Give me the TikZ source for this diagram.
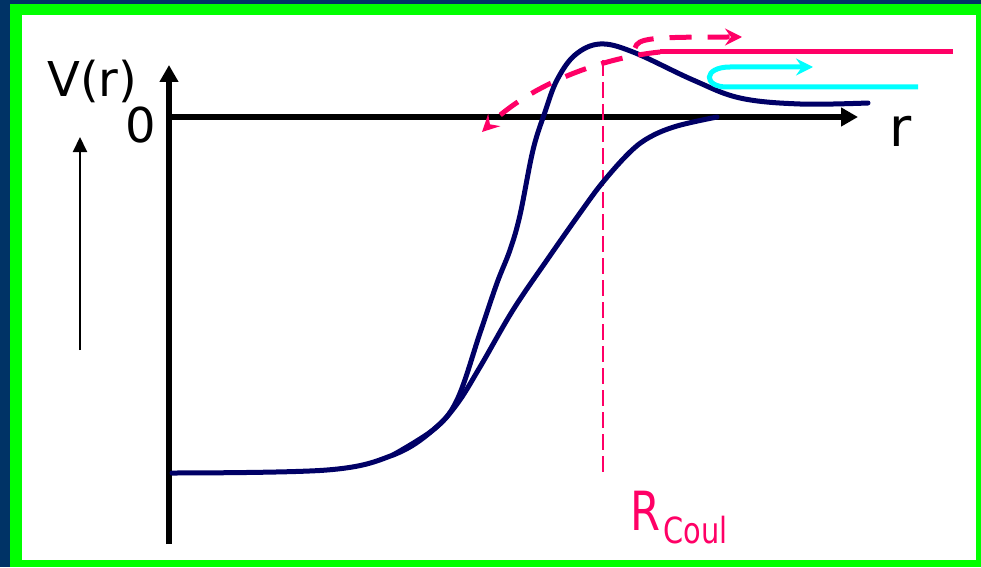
\documentclass[tikz,border=0pt]{standalone}
\usepackage{fontspec}
\setmainfont{DejaVu Sans}
\newfontfamily\narrowfont[FakeStretch=0.8]{DejaVu Sans}
\usetikzlibrary{arrows.meta}
\definecolor{slidebg}{RGB}{0,51,102}
\definecolor{framegreen}{RGB}{0,255,0}
\definecolor{potblue}{RGB}{0,0,102}
\definecolor{beampink}{RGB}{255,0,102}
\definecolor{beamcyan}{RGB}{0,255,255}
\tikzset{
    axis/.style={line width=5.5pt, -{Triangle[length=17pt,width=18pt]}},
    potential/.style={potblue, line width=5pt, line cap=round},
    beam/.style={line width=5pt, -{Stealth[length=17pt,width=17pt,inset=6pt]}},
    txt/.style={inner sep=0pt, anchor=base west},
}

\begin{document}
\begin{tikzpicture}[x=1pt, y=-1pt]
    \useasboundingbox (0,0) rectangle (981,567);
    \fill[slidebg] (0,0) rectangle (981,567);
    \fill[framegreen] (10,4) rectangle (981,567);
    \fill[white] (22,15) rectangle (976,560);

    \coordinate (yfoot) at (169,544);
    \coordinate (ytip) at (169,65);
    \coordinate (origin) at (169,117);
    \coordinate (xtip) at (858,117);
    \draw[axis] (yfoot) -- (ytip);
    \draw[axis] (origin) -- (xtip);

    \coordinate (upfoot) at (80,350);
    \coordinate (uptip) at (80,137);
    \draw[line width=2pt, -{Triangle[length=15pt,width=14pt]}] (upfoot) -- (uptip);

    \node[txt, font=\fontsize{48}{50}\selectfont] (vlabel) at (47,97) {V(r)};
    \node[txt, font=\fontsize{48}{50}\selectfont] (zero) at (125,142) {0};
    \node[txt, font=\fontsize{54}{56}\selectfont] (rlabel) at (889,146) {r};
    \node[txt, beampink, font=\narrowfont\fontsize{54}{56}\selectfont] (rcoul) at (630,530) {R};
    \node[txt, beampink, font=\narrowfont\fontsize{36}{38}\selectfont] (coul)
        at ([shift={(3,13)}]rcoul.base east) {Coul};

    \draw[beampink, line width=2pt, dash pattern=on 16pt off 6pt] (603,60) -- (603,473);

    \draw[potential] plot[smooth, tension=0.6] coordinates {
        (172,473) (327,470) (393,455) (433,430) (457,400) (480,333) (497,283)
        (510,250) (520,215) (533,150) (545,112) (557,80) (575,55) (600,44)
        (633,52) (693,80) (740,98) (800,104) (868,103)};
    \draw[potential] plot[smooth, tension=0.6] coordinates {
        (393,455) (433,430) (457,404) (480,367) (513,310) (547,260) (580,213)
        (603,182) (630,152) (650,137) (677,126) (717,117)};

    \coordinate (beamin) at (953,52);
    \coordinate (barrier) at (660,52);
    \coordinate (fused) at (482,132);
    \coordinate (split) at (635,48);
    \coordinate (reflect) at (742,37);
    \draw[beampink, line width=5pt] (beamin) -- (barrier);
    \draw[beampink, beam, dash pattern=on 22pt off 16pt]
        (barrier) .. controls (600,58) and (530,85) .. (fused);
    \draw[beampink, beam, dash pattern=on 22pt off 16pt]
        (split) .. controls (638,38) and (650,37) .. (reflect);

    \coordinate (cyanin) at (918,87);
    \coordinate (cyanout) at (813,67);
    \draw[beamcyan, beam] (cyanin) -- (727,87)
        .. controls (703,87) and (703,67) .. (730,67) -- (cyanout);
\end{tikzpicture}
\end{document}
